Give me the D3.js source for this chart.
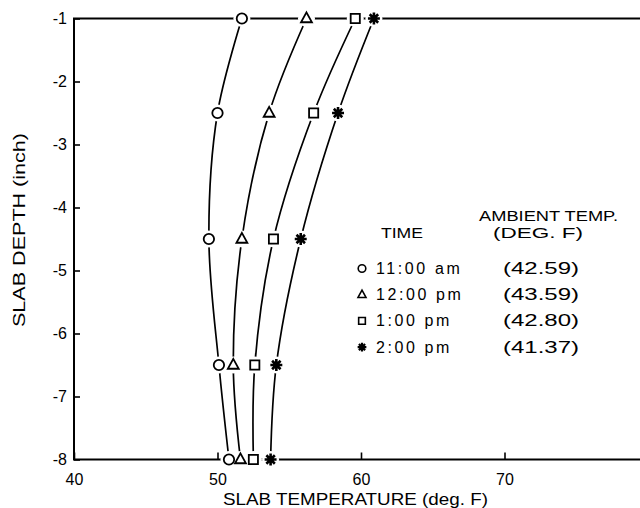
<!DOCTYPE html>
<html>
<head>
<meta charset="utf-8">
<script src="https://cdn.jsdelivr.net/npm/d3@7"></script>
<style>
  html, body { margin: 0; padding: 0; background: #fff; }
  svg { display: block; }
  text { font-family: "Liberation Sans", Arial, sans-serif; fill: #000; }
</style>
</head>
<body>
<svg id="chart" width="640" height="508"></svg>
<script>
// Slab temperature profiles at four times of day
const depths = [-1, -2.5, -4.5, -6.5, -8];
const temp1100 = [51.7, 50.0, 49.4, 50.1, 50.8];
const temp1200 = [56.2, 53.6, 51.7, 51.1, 51.6];
const temp1300 = [59.6, 56.7, 53.9, 52.6, 52.5];
const temp1400 = [60.9, 58.4, 55.8, 54.1, 53.7];
const timeLabels = ["11:00 am", "12:00 pm", "1:00 pm", "2:00 pm"];
const ambientTemps = [42.59, 43.59, 42.80, 41.37];
const markerKinds = ["circle", "triangle", "square", "star"];
const xTicks = [40, 50, 60, 70];
const yTicks = [-1, -2, -3, -4, -5, -6, -7, -8];

const seriesTemps = [temp1100, temp1200, temp1300, temp1400];
const series = seriesTemps.map((temps, i) => ({
  label: timeLabels[i],
  ambient: ambientTemps[i],
  kind: markerKinds[i],
  points: temps.map((t, j) => ({ t, depth: depths[j] }))
}));

const svg = d3.select("#chart");

const x = d3.scaleLinear().domain([40, 80]).range([74, 648]);
const y = d3.scaleLinear().domain([-1, -8]).range([18.5, 459.5]);

// axes with inward ticks
const xAxis = svg.append("g")
  .attr("transform", `translate(0,${y(-8)})`)
  .call(d3.axisBottom(x).tickValues(xTicks).tickFormat(d => String(d))
    .tickSizeInner(-7).tickSizeOuter(0).tickPadding(14));
const yAxis = svg.append("g")
  .attr("transform", `translate(${x(40)},0)`)
  .call(d3.axisLeft(y).tickValues(yTicks).tickFormat(d => String(d))
    .tickSizeInner(-6).tickSizeOuter(0).tickPadding(7));

[xAxis, yAxis].forEach(g => {
  g.select(".domain").remove();
  g.selectAll(".tick line").attr("stroke", "#000").attr("stroke-width", 1.6);
  g.selectAll(".tick text")
    .attr("font-family", "Liberation Sans, Arial, sans-serif")
    .attr("font-size", 16).attr("fill", "#000");
});

// plot frame
svg.append("rect")
  .attr("x", x(40)).attr("y", y(-1))
  .attr("width", x(80) - x(40)).attr("height", y(-8) - y(-1))
  .attr("fill", "none").attr("stroke", "#000").attr("stroke-width", 2);

// profile curves
const line = d3.line()
  .x(d => x(d.t)).y(d => y(d.depth))
  .curve(d3.curveCatmullRom.alpha(0.5));

svg.append("g").selectAll("path")
  .data(series).join("path")
  .attr("d", d => line(d.points))
  .attr("fill", "none").attr("stroke", "#000").attr("stroke-width", 1.7);

// white gaps around the markers
const allPoints = series.flatMap(s => s.points.map(p => ({ ...p, kind: s.kind })));
svg.append("g").selectAll("circle")
  .data(allPoints).join("circle")
  .attr("cx", d => x(d.t)).attr("cy", d => y(d.depth))
  .attr("r", 8.5).attr("fill", "#fff");

function markerPath(kind, r) {
  const p = d3.path();
  if (kind === "circle") {
    p.moveTo(r, 0); p.arc(0, 0, r, 0, 2 * Math.PI);
  } else if (kind === "triangle") {
    const h = r * 1.9;
    p.moveTo(0, -h * 0.62); p.lineTo(r * 1.05, h * 0.38); p.lineTo(-r * 1.05, h * 0.38); p.closePath();
  } else if (kind === "square") {
    const s = r * 0.88;
    p.rect(-s, -s, 2 * s, 2 * s);
  } else {
    const rs = r * 1.15;
    for (let k = 0; k < 4; k++) {
      const a = k * Math.PI / 4;
      p.moveTo(Math.cos(a) * rs, Math.sin(a) * rs);
      p.lineTo(-Math.cos(a) * rs, -Math.sin(a) * rs);
    }
  }
  return p.toString();
}

svg.append("g").selectAll("path")
  .data(allPoints).join("path")
  .attr("transform", d => `translate(${x(d.t)},${y(d.depth)})`)
  .attr("d", d => markerPath(d.kind, 5.2))
  .attr("fill", "#fff").attr("stroke", "#000")
  .attr("stroke-width", d => d.kind === "star" ? 2.6 : 1.8);

// axis titles
svg.append("text")
  .attr("x", 223).attr("y", 505)
  .attr("font-size", 17)
  .attr("textLength", 265).attr("lengthAdjust", "spacingAndGlyphs")
  .text("SLAB TEMPERATURE (deg. F)");

svg.append("text")
  .attr("transform", "translate(25,327) rotate(-90)")
  .attr("font-size", 17)
  .attr("textLength", 194).attr("lengthAdjust", "spacingAndGlyphs")
  .text("SLAB DEPTH (inch)");

// legend
const legend = svg.append("g");
legend.append("text").attr("x", 381).attr("y", 238).attr("font-size", 15)
  .attr("textLength", 42).attr("lengthAdjust", "spacingAndGlyphs").text("TIME");
legend.append("text").attr("x", 479).attr("y", 221).attr("font-size", 15)
  .attr("textLength", 139).attr("lengthAdjust", "spacingAndGlyphs").text("AMBIENT TEMP.");
legend.append("text").attr("x", 493).attr("y", 238).attr("font-size", 15)
  .attr("textLength", 90).attr("lengthAdjust", "spacingAndGlyphs").text("(DEG. F)");

const rowY = i => 274 + i * 26.2;
const rows = legend.selectAll("g.row").data(series).join("g").attr("class", "row");
rows.append("path")
  .attr("transform", (d, i) => `translate(362,${rowY(i) - 5.5})`)
  .attr("d", d => markerPath(d.kind, 3.8))
  .attr("fill", "#fff").attr("stroke", "#000")
  .attr("stroke-width", d => d.kind === "star" ? 2.2 : 1.6);
rows.append("text")
  .attr("x", 376).attr("y", (d, i) => rowY(i))
  .attr("font-size", 16).attr("letter-spacing", 2.6)
  .text(d => d.label);
rows.append("text")
  .attr("x", 503).attr("y", (d, i) => rowY(i))
  .attr("font-size", 16)
  .attr("textLength", 76).attr("lengthAdjust", "spacingAndGlyphs")
  .text(d => `(${d.ambient.toFixed(2)})`);
</script>
</body>
</html>
